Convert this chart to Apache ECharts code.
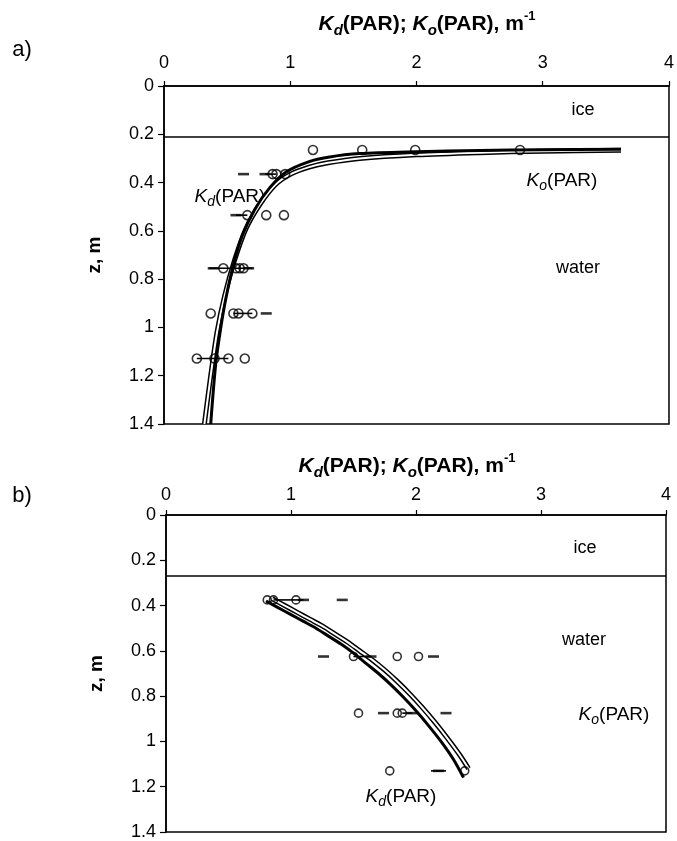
<!DOCTYPE html>
<html>
<head>
<meta charset="utf-8">
<script src="https://cdn.jsdelivr.net/npm/echarts@6/dist/echarts.min.js"></script>
<style>
html,body{margin:0;padding:0;background:#fff;}
#chart{width:677px;height:841px;}
</style>
</head>
<body>
<div id="chart"></div>
<script>
// ---------- data ----------
const xTicks = [0, 1, 2, 3, 4];
const zTicks = [0, 0.2, 0.4, 0.6, 0.8, 1, 1.2, 1.4];
const iceA = 0.21;
const iceB = 0.27;

// panel a curves [K, z]
const kdCurveA = [[3.62,0.262],[3.0,0.264],[2.5,0.267],[2.0,0.272],[1.55,0.28],[1.3,0.295],[1.15,0.313],[0.97,0.355],[0.84,0.42],[0.72,0.51],[0.62,0.62],[0.55,0.74],[0.49,0.88],[0.45,1.0],[0.41,1.15],[0.37,1.4]];
const koCurveA = [[3.62,0.266],[3.0,0.27],[2.5,0.276],[2.0,0.285],[1.55,0.30],[1.3,0.318],[1.15,0.336],[1.0,0.366],[0.88,0.41],[0.76,0.49],[0.65,0.59],[0.56,0.72],[0.48,0.87],[0.42,1.02],[0.37,1.2],[0.32,1.4]];
// panel a measurements
const circlesA = [[1.18,0.265],[1.57,0.265],[1.99,0.265],[2.82,0.265],
  [0.86,0.365],[0.89,0.365],[0.96,0.365],
  [0.66,0.535],[0.81,0.535],[0.95,0.535],
  [0.47,0.755],[0.57,0.755],[0.60,0.755],[0.63,0.755],
  [0.37,0.942],[0.55,0.942],[0.59,0.942],[0.70,0.942],
  [0.26,1.129],[0.40,1.129],[0.51,1.129],[0.64,1.129]];
const dashesA = [[0.63,0.365],[0.80,0.365],[0.57,0.535],[0.39,0.755],[0.67,0.755],[0.81,0.942]];
const errA = [[0.80,0.89,0.365],[0.57,0.66,0.535],[0.36,0.70,0.755],[0.55,0.70,0.942],[0.26,0.51,1.129]];

// panel b curves
const kdCurveB = [[0.80,0.38],[0.9,0.41],[1.0,0.44],[1.1,0.47],[1.2,0.50],[1.3,0.535],[1.4,0.57],[1.5,0.61],[1.6,0.655],[1.7,0.70],[1.8,0.75],[1.9,0.805],[2.0,0.865],[2.1,0.93],[2.2,1.0],[2.3,1.08],[2.38,1.16]];
const koCurveB = [[0.85,0.37],[0.95,0.40],[1.05,0.43],[1.15,0.46],[1.25,0.49],[1.35,0.525],[1.45,0.56],[1.55,0.60],[1.65,0.64],[1.75,0.685],[1.85,0.735],[1.95,0.79],[2.05,0.85],[2.15,0.915],[2.25,0.985],[2.35,1.06],[2.42,1.12]];
const circlesB = [[0.81,0.375],[0.86,0.375],[1.04,0.375],
  [1.50,0.625],[1.85,0.625],[2.02,0.625],
  [1.54,0.875],[1.85,0.875],[1.89,0.875],
  [1.79,1.13],[2.39,1.13]];
const dashesB = [[1.10,0.375],[1.41,0.375],[1.26,0.625],[1.64,0.625],[2.14,0.625],[1.74,0.875],[1.97,0.875],[2.24,0.875],[2.18,1.13]];
const errB = [[0.86,1.10,0.375],[1.50,1.64,0.625],[1.89,1.97,0.875],[2.12,2.24,1.13]];

// ---------- chart ----------
const FONT = 'Liberation Sans, Arial, sans-serif';
const chart = echarts.init(document.getElementById('chart'), null, {renderer: 'canvas'});

function xAx(idx) {
  return {
    gridIndex: idx, type: 'value', position: 'top', min: 0, max: 4, interval: 1,
    axisLine: {show: true, onZero: false, lineStyle: {color: '#000', width: 1.5}},
    axisTick: {show: true, inside: false, length: 5, lineStyle: {color: '#000', width: 1.2}},
    axisLabel: {color: '#000', fontSize: 18, fontFamily: FONT, margin: idx === 0 ? 14 : 11,
      formatter: v => xTicks.includes(v) ? String(v) : ''},
    splitLine: {show: false}
  };
}
function yAx(idx) {
  return {
    gridIndex: idx, type: 'value', inverse: true, min: 0, max: 1.4, interval: 0.2,
    name: 'z, m', nameLocation: 'middle', nameGap: 60, nameRotate: 90,
    nameTextStyle: {color: '#000', fontSize: 19, fontWeight: 'bold', fontFamily: FONT},
    axisLine: {show: true, onZero: false, lineStyle: {color: '#000', width: 1.5}},
    axisTick: {show: true, length: 6, lineStyle: {color: '#000', width: 1.2}},
    axisLabel: {color: '#000', fontSize: 18, fontFamily: FONT, margin: 10,
      formatter: v => {
        const t = zTicks.find(z => Math.abs(z - v) < 1e-6);
        return t === undefined ? '' : String(t);
      }},
    splitLine: {show: false}
  };
}

function errSeries(idx, data) {
  return {
    type: 'custom', xAxisIndex: idx, yAxisIndex: idx, data: data, silent: true, z: 3,
    encode: {x: [0, 1], y: 2},
    renderItem: function (params, api) {
      const p1 = api.coord([api.value(0), api.value(2)]);
      const p2 = api.coord([api.value(1), api.value(2)]);
      return {type: 'line', shape: {x1: p1[0], y1: p1[1], x2: p2[0], y2: p2[1]},
        style: {stroke: '#000', lineWidth: 1.6}};
    }
  };
}
function curveSeries(idx, data, w, color, z) {
  return {type: 'line', xAxisIndex: idx, yAxisIndex: idx, data: data, smooth: 0.3,
    showSymbol: false, symbol: 'none', silent: true, z: z,
    lineStyle: {color: color, width: w}};
}
function circleSeries(idx, data, size) {
  return {type: 'scatter', xAxisIndex: idx, yAxisIndex: idx, data: data, symbol: 'circle',
    symbolSize: size, silent: true, z: 6,
    itemStyle: {color: 'rgba(0,0,0,0)', borderColor: '#000', borderWidth: 1.6}};
}
function dashSeries(idx, data) {
  return {type: 'scatter', xAxisIndex: idx, yAxisIndex: idx, data: data, symbol: 'rect',
    symbolSize: [11, 2.6], silent: true, z: 5, itemStyle: {color: '#000'}};
}
function iceSeries(idx, z) {
  return {type: 'line', xAxisIndex: idx, yAxisIndex: idx, data: [], silent: true,
    markLine: {symbol: 'none', silent: true, label: {show: false},
      lineStyle: {color: '#000', width: 1.5, type: 'solid'},
      data: [{yAxis: z}]}};
}

const richBase = {
  n: {fontSize: 19, fontFamily: FONT, color: '#000', lineHeight: 24},
  k: {fontSize: 19, fontFamily: FONT, fontStyle: 'italic', color: '#000', lineHeight: 24},
  s: {fontSize: 14, fontFamily: FONT, fontStyle: 'italic', color: '#000', lineHeight: 16, verticalAlign: 'bottom'}
};
const richTitle = {
  n: {fontSize: 21, fontFamily: FONT, fontWeight: 'bold', color: '#000', lineHeight: 28},
  k: {fontSize: 21, fontFamily: FONT, fontWeight: 'bold', fontStyle: 'italic', color: '#000', lineHeight: 28},
  s: {fontSize: 15, fontFamily: FONT, fontWeight: 'bold', fontStyle: 'italic', color: '#000', lineHeight: 17, verticalAlign: 'bottom'},
  p: {fontSize: 13, fontFamily: FONT, fontWeight: 'bold', color: '#000', lineHeight: 15, verticalAlign: 'top'}
};
const titleText = '{k|K}{s|d}{n|(PAR); }{k|K}{s|o}{n|(PAR), m}{p|-1}';

function txt(x, y, text, rich, align) {
  return {type: 'text', x: x, y: y, silent: true,
    style: {text: text, rich: rich, align: align || 'center', verticalAlign: 'middle',
      fill: '#000', font: '18px ' + FONT}};
}
function plain(x, y, text, size) {
  return {type: 'text', x: x, y: y, silent: true,
    style: {text: text, align: 'center', verticalAlign: 'middle', fill: '#000',
      font: size + 'px ' + FONT}};
}

chart.setOption({
  animation: false,
  backgroundColor: '#fff',
  grid: [
    {left: 164, top: 86, width: 506, height: 338, show: true, borderColor: '#000', borderWidth: 1.5, backgroundColor: 'rgba(0,0,0,0)'},
    {left: 166, top: 515, width: 500, height: 318, show: true, borderColor: '#000', borderWidth: 1.5, backgroundColor: 'rgba(0,0,0,0)'}
  ],
  xAxis: [xAx(0), xAx(1)],
  yAxis: [yAx(0), yAx(1)],
  graphic: [
    plain(22, 50, 'a)', 22),
    plain(22, 496, 'b)', 22),
    txt(427, 24, titleText, richTitle),
    txt(407, 466, titleText, richTitle),
    plain(583, 110, 'ice', 18),
    plain(578, 268, 'water', 18),
    txt(230, 197, '{k|K}{s|d}{n|(PAR)}', richBase),
    txt(562, 181, '{k|K}{s|o}{n|(PAR)}', richBase),
    plain(585, 548, 'ice', 18),
    plain(584, 640, 'water', 18),
    txt(614, 715, '{k|K}{s|o}{n|(PAR)}', richBase),
    txt(401, 797, '{k|K}{s|d}{n|(PAR)}', richBase)
  ],
  series: [
    iceSeries(0, iceA),
    errSeries(0, errA),
    curveSeries(0, koCurveA, 5, '#000', 2),
    curveSeries(0, koCurveA, 2, '#fff', 2.1),
    curveSeries(0, kdCurveA, 3, '#000', 2.2),
    dashSeries(0, dashesA),
    circleSeries(0, circlesA, 9),
    iceSeries(1, iceB),
    errSeries(1, errB),
    curveSeries(1, koCurveB, 5, '#000', 2),
    curveSeries(1, koCurveB, 2, '#fff', 2.1),
    curveSeries(1, kdCurveB, 3, '#000', 2.2),
    dashSeries(1, dashesB),
    circleSeries(1, circlesB, 8)
  ]
});
</script>
</body>
</html>
